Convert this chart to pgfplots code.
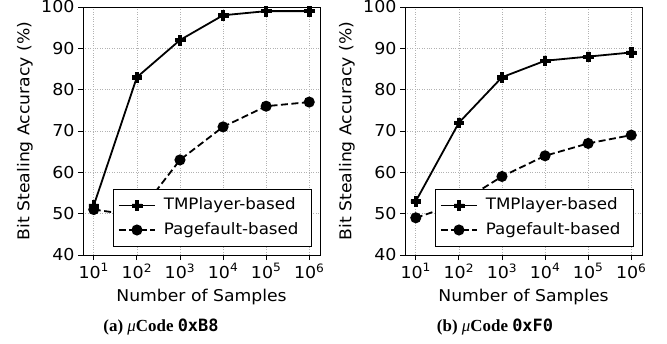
\documentclass[border=0pt]{standalone}
\usepackage{fontspec}
\setmainfont[FakeStretch=1.06]{DejaVu Sans}
\newfontfamily\capfont{Liberation Serif}
\newfontfamily\codefont{DejaVu Sans Mono}
\usepackage{pgfplots}
\pgfplotsset{compat=1.18}

\pgfdeclareplotmark{Pfill}{%
  \pgfpathmoveto{\pgfqpoint{-0.333\pgfplotmarksize}{\pgfplotmarksize}}%
  \pgfpathlineto{\pgfqpoint{0.333\pgfplotmarksize}{\pgfplotmarksize}}%
  \pgfpathlineto{\pgfqpoint{0.333\pgfplotmarksize}{0.333\pgfplotmarksize}}%
  \pgfpathlineto{\pgfqpoint{\pgfplotmarksize}{0.333\pgfplotmarksize}}%
  \pgfpathlineto{\pgfqpoint{\pgfplotmarksize}{-0.333\pgfplotmarksize}}%
  \pgfpathlineto{\pgfqpoint{0.333\pgfplotmarksize}{-0.333\pgfplotmarksize}}%
  \pgfpathlineto{\pgfqpoint{0.333\pgfplotmarksize}{-\pgfplotmarksize}}%
  \pgfpathlineto{\pgfqpoint{-0.333\pgfplotmarksize}{-\pgfplotmarksize}}%
  \pgfpathlineto{\pgfqpoint{-0.333\pgfplotmarksize}{-0.333\pgfplotmarksize}}%
  \pgfpathlineto{\pgfqpoint{-\pgfplotmarksize}{-0.333\pgfplotmarksize}}%
  \pgfpathlineto{\pgfqpoint{-\pgfplotmarksize}{0.333\pgfplotmarksize}}%
  \pgfpathlineto{\pgfqpoint{-0.333\pgfplotmarksize}{0.333\pgfplotmarksize}}%
  \pgfpathclose
  \pgfusepathqfillstroke}

\tikzset{
  tmp/.style={black, line width=1.8bp, mark=Pfill, mark size=4.8bp, mark options={solid, fill=black, line width=0.5bp}},
  pf/.style={black, line width=1.8bp, dash pattern=on 7bp off 3.5bp, mark=*, mark size=4.6bp, mark options={solid, fill=black}},
}

\begin{document}
\begin{tikzpicture}[x=1bp,y=1bp]
\useasboundingbox (0,0) rectangle (667,343);
\foreach \px/\sub in {83/a, 405/b} {
\begin{axis}[
  at={(\px bp,88bp)}, anchor=south west,
  xmode=log, scale only axis, width=237bp, height=248bp,
  xmin=5.623, xmax=1.778e6, ymin=40, ymax=100,
  xtick={10,100,1000,10000,100000,1000000},
  xticklabels={10\textsuperscript{1},10\textsuperscript{2},10\textsuperscript{3},10\textsuperscript{4},10\textsuperscript{5},10\textsuperscript{6}},
  ytick={40,50,60,70,80,90,100},
  yticklabels={40,50,60,70,80,90,100},
  xminorticks=false, yminorticks=false,
  tick align=outside, tick pos=left, major tick length=5bp,
  tick style={black, line width=0.9bp},
  axis line style={line width=0.9bp},
  grid=major,
  major grid style={dash pattern=on 0.8bp off 1.6bp, color=black!30, line width=0.6bp},
  ticklabel style={font=\fontsize{16.5}{18}\selectfont},
  label style={font=\fontsize{16.3}{19}\selectfont},
  xlabel={Number of Samples},
  ylabel={Bit Stealing Accuracy (\%)},
  x label style={at={(axis description cs:0.5,-0.17)}, anchor=center},
  y label style={at={(axis description cs:-0.245,0.5)}, anchor=center},
  legend style={at={(1,0)}, anchor=south east, xshift=-8bp, yshift=8bp,
    draw=black, fill=white, line width=1bp,
    inner xsep=5bp, inner ysep=7bp, row sep=5.5bp, column sep=0bp,
    nodes={font=\fontsize{15.8}{18}\selectfont, inner ysep=2bp, inner xsep=8bp, text height=11.5bp, text depth=3.5bp}},
  legend cell align=left,
  legend image code/.code={\draw[mark repeat=2,mark phase=2] plot coordinates {(0bp,0bp) (18bp,0bp) (36bp,0bp)};},
]
\if\sub a
\addplot[tmp] coordinates {(10,52) (100,83) (1000,92) (10000,98) (100000,99) (1000000,99)};
\addlegendentry{TMPlayer-based}
\addplot[pf] coordinates {(10,51) (100,49.5) (1000,63) (10000,71) (100000,76) (1000000,77)};
\addlegendentry{Pagefault-based}
\else
\addplot[tmp] coordinates {(10,53) (100,72) (1000,83) (10000,87) (100000,88) (1000000,89)};
\addlegendentry{TMPlayer-based}
\addplot[pf] coordinates {(10,49) (100,52.5) (1000,59) (10000,64) (100000,67) (1000000,69)};
\addlegendentry{Pagefault-based}
\fi
\end{axis}
}
\node at (161,16) {\capfont\bfseries\fontsize{17}{19}\selectfont (a) {\mdseries\itshape μ}Code {\codefont 0xB8}};
\node at (495,16) {\capfont\bfseries\fontsize{17}{19}\selectfont (b) {\mdseries\itshape μ}Code {\codefont 0xF0}};
\end{tikzpicture}
\end{document}
